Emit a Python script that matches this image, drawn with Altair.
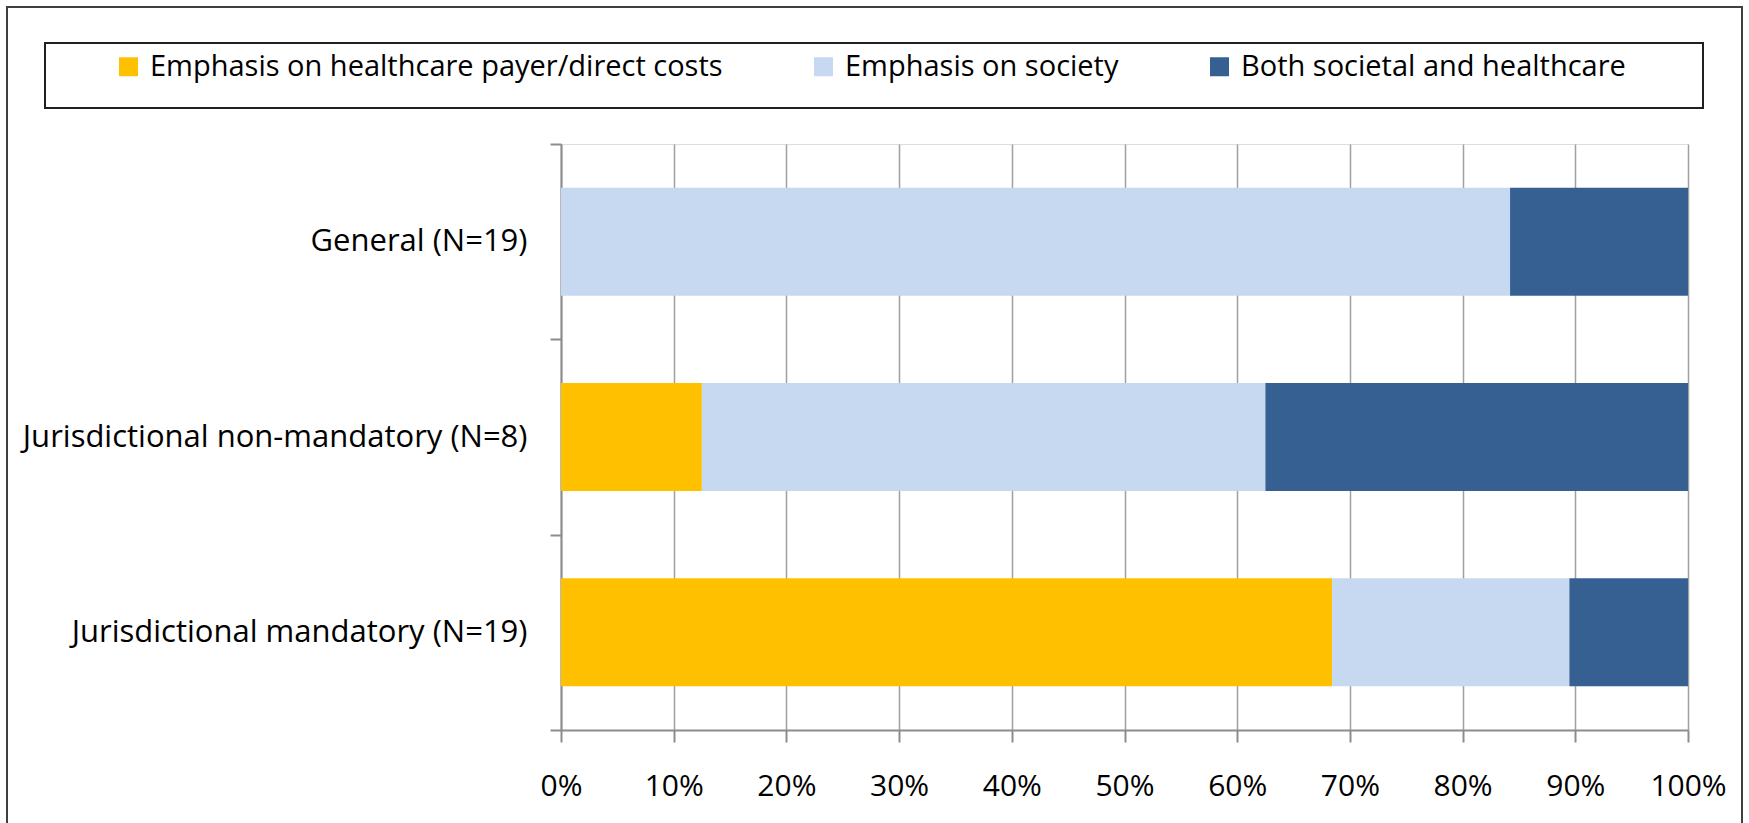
import altair as alt
import pandas as pd

categories = ["General (N=19)", "Jurisdictional non-mandatory (N=8)", "Jurisdictional mandatory (N=19)"]
series = ["Emphasis on healthcare payer/direct costs", "Emphasis on society", "Both societal and healthcare"]
healthcare = [0, 1, 13]
society = [16, 4, 4]
both = [3, 3, 2]
colors = ["#FFC000", "#C6D9F1", "#376092"]
tick_values = [0, 0.1, 0.2, 0.3, 0.4, 0.5, 0.6, 0.7, 0.8, 0.9, 1.0]

rows = []
for i, c in enumerate(categories):
    for j, (s, vals) in enumerate(zip(series, [healthcare, society, both])):
        rows.append({"category": c, "series": s, "count": vals[i], "order": j})
df = pd.DataFrame(rows)

FONT = "Open Sans"
W, H = 1127, 586

bars = alt.Chart(df).mark_bar(stroke=None, size=108).encode(
    y=alt.Y("category:N", sort=categories, title=None,
            scale=alt.Scale(paddingInner=0, paddingOuter=0),
            axis=alt.Axis(labelFont=FONT, labelFontSize=31, labelColor="black",
                          tickBand="extent", tickSize=11, tickColor="#8c8c8c", tickWidth=2,
                          domainColor="#8c8c8c", domainWidth=2, labelPadding=23,
                          labelLimit=600, grid=False)),
    x=alt.X("count:Q", stack="normalize", title=None,
            scale=alt.Scale(domain=[0, 1], nice=False),
            axis=alt.Axis(values=tick_values, format=".0%", labelFont=FONT, labelFontSize=30,
                          labelColor="black", tickSize=12, tickColor="#8c8c8c", tickWidth=2,
                          domainColor="#8c8c8c", domainWidth=2, labelPadding=29,
                          grid=True, gridColor="#a0a0a0", gridWidth=1.5, labelFlush=False)),
    color=alt.Color("series:N", scale=alt.Scale(domain=series, range=colors),
                    legend=alt.Legend(title=None, orient="none", direction="horizontal",
                                      legendX=-447, legendY=-92,
                                      symbolType="square", symbolSize=361, symbolStrokeWidth=0,
                                      labelFont=FONT, labelFontSize=29, labelColor="black",
                                      labelOffset=7, columnPadding=86, labelLimit=800)),
    order=alt.Order("order:Q"),
)

outer_frame = alt.Chart(pd.DataFrame({"a": [0]})).mark_rect(
    fill=None, stroke="#404040", strokeWidth=2, clip=False
).encode(x=alt.value(-554), x2=alt.value(1181), y=alt.value(-137), y2=alt.value(700))

legend_frame = alt.Chart(pd.DataFrame({"a": [0]})).mark_rect(
    fill=None, stroke="#202020", strokeWidth=2, clip=False
).encode(x=alt.value(-516), x2=alt.value(1142), y=alt.value(-101), y2=alt.value(-36))

chart = alt.layer(outer_frame, legend_frame, bars).properties(
    width=W, height=H,
    autosize=alt.AutoSizeParams(type="none"),
    padding={"left": 561, "top": 144, "right": 61, "bottom": 93},
).configure_view(stroke="#595959", strokeWidth=2).configure(background="white")

chart.save("out.html", embed_options={"renderer": "svg", "actions": False})
